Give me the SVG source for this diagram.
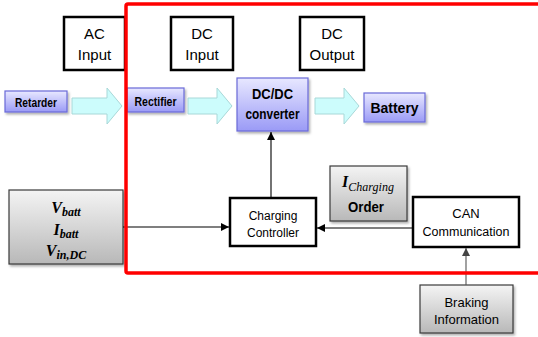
<svg xmlns="http://www.w3.org/2000/svg" width="538" height="337" viewBox="0 0 538 337">
<style>
.lbl{font-family:"Liberation Sans",Arial,sans-serif;fill:#000;text-anchor:middle}
.reg{font-size:15px}
.sm{font-size:12px}
.md{font-size:13px}
.bold{font-weight:bold}
.math{font-family:"Liberation Serif","Times New Roman",serif;font-weight:bold;font-style:italic;fill:#000;text-anchor:middle}
.wbox{fill:#fff;stroke:#000;stroke-width:2.5}
.pbox{fill:url(#purp);stroke:#6a6ad8;stroke-width:1.2;filter:url(#sh)}
.gbox{fill:url(#gray);stroke:#3a3a3a;stroke-width:1.2;filter:url(#sh)}
.fat{fill:#ccfcfc;stroke:#a8d8d8;stroke-width:1}
.conn{fill:none;stroke:#000;stroke-width:1.1}
</style>
<defs>
<linearGradient id="purp" x1="0" y1="0" x2="0" y2="1">
<stop offset="0" stop-color="#e8e8ff"/>
<stop offset="1" stop-color="#9a9af6"/>
</linearGradient>
<linearGradient id="gray" x1="0" y1="0" x2="0" y2="1">
<stop offset="0" stop-color="#f4f4f4"/>
<stop offset="1" stop-color="#b8b8b8"/>
</linearGradient>
<filter id="sh" x="-10%" y="-10%" width="130%" height="140%">
<feDropShadow dx="1.5" dy="2" stdDeviation="1" flood-color="#000" flood-opacity="0.3"/>
</filter>
<marker id="ah" markerUnits="userSpaceOnUse" markerWidth="9" markerHeight="8" refX="8" refY="4" orient="auto">
<path d="M0,0 L8,4 L0,8 Z" fill="#000"/>
</marker>
<marker id="ahg" markerUnits="userSpaceOnUse" markerWidth="9" markerHeight="8" refX="8" refY="4" orient="auto">
<path d="M0,0 L8,4 L0,8 Z" fill="#444"/>
</marker>
</defs>

<g id="ac-input">
<rect class="wbox" x="64" y="17" width="61" height="53"/>
<text class="lbl reg" x="94.5" y="39">AC</text>
<text class="lbl reg" x="94.5" y="60">Input</text>
</g>
<g id="dc-input">
<rect class="wbox" x="171" y="17" width="62" height="53"/>
<text class="lbl reg" x="202" y="39">DC</text>
<text class="lbl reg" x="202" y="60">Input</text>
</g>
<g id="dc-output">
<rect class="wbox" x="300" y="17" width="64" height="53"/>
<text class="lbl reg" x="332" y="39">DC</text>
<text class="lbl reg" x="332" y="60">Output</text>
</g>

<g id="retarder">
<rect class="pbox" x="5" y="91" width="62" height="21"/>
<text class="lbl bold" style="font-size:13px" x="36" y="106.5" textLength="42" lengthAdjust="spacingAndGlyphs">Retarder</text>
</g>
<g id="rectifier">
<rect class="pbox" x="127" y="88" width="57" height="24"/>
<text class="lbl bold" style="font-size:13px" x="155.5" y="105.5" textLength="42" lengthAdjust="spacingAndGlyphs">Rectifier</text>
</g>
<g id="dcdc-converter">
<rect class="pbox" x="237" y="78" width="71" height="53"/>
<text class="lbl bold" style="font-size:14.5px" x="272.5" y="99" textLength="41" lengthAdjust="spacingAndGlyphs">DC/DC</text>
<text class="lbl bold" style="font-size:14.5px" x="272.5" y="119" textLength="54" lengthAdjust="spacingAndGlyphs">converter</text>
</g>
<g id="battery">
<rect class="pbox" x="364" y="93" width="61" height="29"/>
<text class="lbl bold" style="font-size:14px" x="394.5" y="112.5">Battery</text>
</g>

<g id="flow-arrows">
<polygon class="fat" points="72,98 107,98 107,88 122,106 107,124 107,114 72,114"/>
<polygon class="fat" points="188,98 217,98 217,88 232,106 217,124 217,114 188,114"/>
<polygon class="fat" points="315,98 344,98 344,88 359,106 344,124 344,114 315,114"/>
</g>

<g id="measurements">
<rect class="gbox" x="9" y="190" width="114" height="74"/>
<text class="math" style="font-size:16px" x="66" y="213">V<tspan style="font-size:12px" dy="3">batt</tspan></text>
<text class="math" style="font-size:16px" x="66" y="235">I<tspan style="font-size:12px" dy="3">batt</tspan></text>
<text class="math" style="font-size:16px" x="66" y="256">V<tspan style="font-size:12px" dy="3">in,DC</tspan></text>
</g>

<g id="charging-controller">
<rect class="wbox" x="230" y="198" width="86" height="48"/>
<text class="lbl sm" x="273" y="220">Charging</text>
<text class="lbl sm" x="273" y="237">Controller</text>
</g>

<g id="charging-order">
<rect class="gbox" x="330" y="166" width="77" height="55"/>
<text class="math" style="font-size:16px" x="368" y="187">I<tspan style="font-size:12px;font-weight:normal" dy="4">Charging</tspan></text>
<text class="lbl bold" style="font-size:14.5px" x="366" y="212" textLength="36" lengthAdjust="spacingAndGlyphs">Order</text>
</g>

<g id="can-communication">
<rect class="wbox" x="413" y="197" width="106" height="50"/>
<text class="lbl md" x="466" y="218">CAN</text>
<text class="lbl" style="font-size:12.5px" x="466" y="236">Communication</text>
</g>

<g id="braking-information">
<rect class="gbox" x="420" y="285" width="93" height="48"/>
<text class="lbl md" x="466.5" y="307">Braking</text>
<text class="lbl md" x="466.5" y="324">Information</text>
</g>

<g id="connectors">
<line class="conn" x1="123" y1="227" x2="229" y2="227" marker-end="url(#ah)"/>
<line class="conn" x1="271" y1="198" x2="271" y2="132" marker-end="url(#ah)"/>
<line class="conn" x1="413" y1="228" x2="317" y2="228" marker-end="url(#ah)"/>
<line class="conn" style="stroke:#555" x1="466" y1="285" x2="466" y2="248" marker-end="url(#ahg)"/>
</g>

<g id="boundary">
<rect x="126" y="4" width="440" height="269" rx="2" fill="none" stroke="#ff0000" stroke-width="3.5"/>
</g>
</svg>
